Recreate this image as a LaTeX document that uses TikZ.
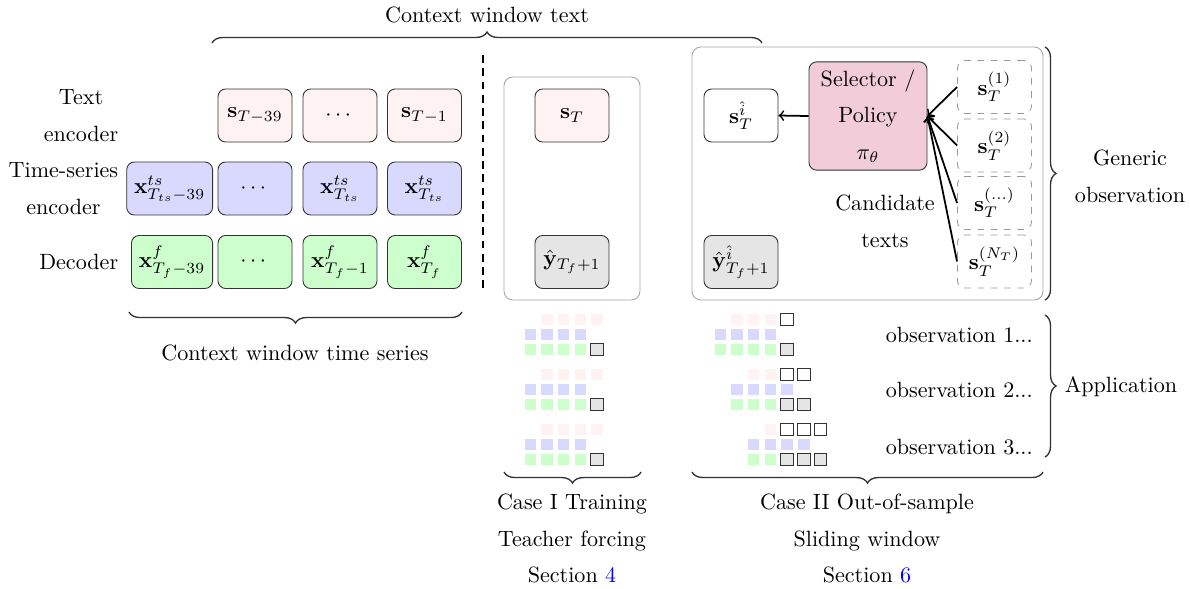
\documentclass[tikz,border=0pt]{standalone}
\usepackage{amsmath}
\usepackage{tikz}
\usetikzlibrary{arrows,shapes,decorations.pathreplacing}

\newcommand{\minicell}[3]{\draw[#1] (#2,#3) rectangle ++(12.5,12.5);}

\begin{document}
\begin{tikzpicture}[x=0.4525pt,y=-0.4525pt,
			box/.style={rectangle,rounded corners=3.5pt,draw=black!80,minimum width=33.5pt,minimum height=24pt},
			text node/.style={box,fill=red!5},
			ts node/.style={box,fill=blue!15},
			dec node/.style={box,fill=green!20},
			pred node/.style={box,fill=gray!20},
			cand node/.style={box,draw=gray!80,dashed},
			policy node/.style={box,fill=purple!20,minimum width=53.4pt,minimum height=49pt,align=center,font=\linespread{1.38}\selectfont},
			label node/.style={align=center,font=\linespread{1.38}\selectfont},
			panel/.style={draw=gray!70,rounded corners=4pt},
			curly/.style={decorate,decoration={brace,amplitude=5pt},draw=black!80,semithick},
			tcell/.style={fill=red!5,draw=white},
			xcell/.style={fill=blue!15,draw=white},
			fcell/.style={fill=green!20,draw=white},
			ocell/.style={fill=gray!20,draw=black!80},
			ecell/.style={fill=white,draw=black!80}
			]
			\useasboundingbox (0,0) rectangle (1190,588);

			\def \ra {115.5};
			\def \rb {188.5};
			\def \rc {262};
			\def \p {16.7};

			% context window
			\node[label node,anchor=east] (l1) at (126,\ra) {Text\\encoder};
			\node[label node,anchor=east] (l2) at (126,\rb) {Time-series\\encoder};
			\node[label node,anchor=east] (l3) at (126,\rc) {Decoder};

			\node[text node] (s2) at (255,\ra) {$\mathbf{s}_{T-39}$};
			\node[text node] (s3) at (340,\ra) {$\cdots$};
			\node[text node] (s4) at (424.5,\ra) {$\mathbf{s}_{T-1}$};

			\node[ts node,anchor=east] (x1) at (213,\rb) {$\mathbf{x}^{ts}_{T_{ts}-39}$};
			\node[ts node] (x2) at (255,\rb) {$\cdots$};
			\node[ts node] (x3) at (340,\rb) {$\mathbf{x}^{ts}_{T_{ts}}$};
			\node[ts node] (x4) at (424.5,\rb) {$\mathbf{x}^{ts}_{T_{ts}}$};

			\node[dec node,anchor=east] (f1) at (213,\rc) {$\mathbf{x}^{f}_{T_f-39}$};
			\node[dec node] (f2) at (255,\rc) {$\cdots$};
			\node[dec node] (f3) at (340,\rc) {$\mathbf{x}^{f}_{T_f-1}$};
			\node[dec node] (f4) at (424.5,\rc) {$\mathbf{x}^{f}_{T_f}$};

			\draw[thick,dash pattern=on 3.5pt off 2.5pt] (483,55) -- (483,292);

			% case I
			\draw[panel] (504,77) rectangle (640,300);
			\node[text node] (sT) at (572,\ra) {$\mathbf{s}_T$};
			\node[pred node] (yT) at (572,\rc) {$\hat{\mathbf{y}}_{T_f+1}$};

			% case II
			\draw[panel] (692,47) rectangle (1043,300);
			\node[box] (si) at (741,\ra) {$\mathbf{s}^{\hat{i}}_T$};
			\node[pred node] (yi) at (741,\rc) {$\hat{\mathbf{y}}^{\hat{i}}_{T_f+1}$};
			\node[policy node] (sel) at (868,116) {Selector /\\Policy\\$\pi_\theta$};
			\node[label node] (cand) at (885,221.5) {Candidate\\texts};

			\foreach \k/\y/\lab in {1/87/1,2/145.5/2,3/203/{\ldots},4/261.5/N_T} {
				\node[cand node] (c\k) at (994.5,\y) {$\mathbf{s}^{(\lab)}_T$};
				\draw[->,thick] (c\k.west) -- (sel.east);
			}
			\draw[->,thick] (sel.west) -- (si.east);

			% braces
			\draw[curly] (212,43) -- (762,43);
			\node (ctxt) at (487,15) {Context window text};
			\draw[curly] (462,312) -- (129,312);
			\node (tsl) at (295,353) {Context window time series};
			\draw[curly] (641,472) -- (504,472);
			\node[label node] (case1) at (572,538.5) {Case I Training\\Teacher forcing\\Section {\color{blue}4}};
			\draw[curly] (1043,472) -- (692,472);
			\node[label node] (case2) at (867,538.5) {Case II Out-of-sample\\Sliding window\\Section {\color{blue}6}};
			\draw[curly] (1045,47) -- (1045,300);
			\node[label node] (gen) at (1130,176.5) {Generic\\observation};
			\draw[curly] (1045,315) -- (1045,457);
			\node (app) at (1121,387) {Application};

			% teacher forcing windows
			\foreach \g in {0,1,2} {
				\pgfmathsetmacro\t{313+55*\g}
				\foreach \c in {1,...,4} {\minicell{tcell}{524+\p*\c}{\t}}
				\foreach \c in {0,...,3} {\minicell{xcell}{524+\p*\c}{\t+15}}
				\foreach \c in {0,...,3} {\minicell{fcell}{524+\p*\c}{\t+30}}
				\minicell{ocell}{524+\p*4}{\t+30}
			}

			% sliding windows
			\foreach \g in {0,1,2} {
				\pgfmathsetmacro\t{313+55*\g}
				\pgfmathtruncatemacro\a{\g+1}
				\pgfmathtruncatemacro\b{4+\g}
				\pgfmathtruncatemacro\e{\g+3}
				\foreach \c in {\a,...,3} {\minicell{tcell}{714+\p*\c}{\t}}
				\foreach \c in {4,...,\b} {\minicell{ecell}{714+\p*\c}{\t}}
				\foreach \c in {\g,...,\e} {\minicell{xcell}{714+\p*\c}{\t+15}}
				\foreach \c in {\g,...,3} {\minicell{fcell}{714+\p*\c}{\t+30}}
				\foreach \c in {4,...,\b} {\minicell{ocell}{714+\p*\c}{\t+30}}
			}
			\foreach \k/\y in {1/335,2/390,3/447}
				\node[anchor=west] (obs\k) at (878,\y) {observation \k...};
		\end{tikzpicture}
\end{document}
